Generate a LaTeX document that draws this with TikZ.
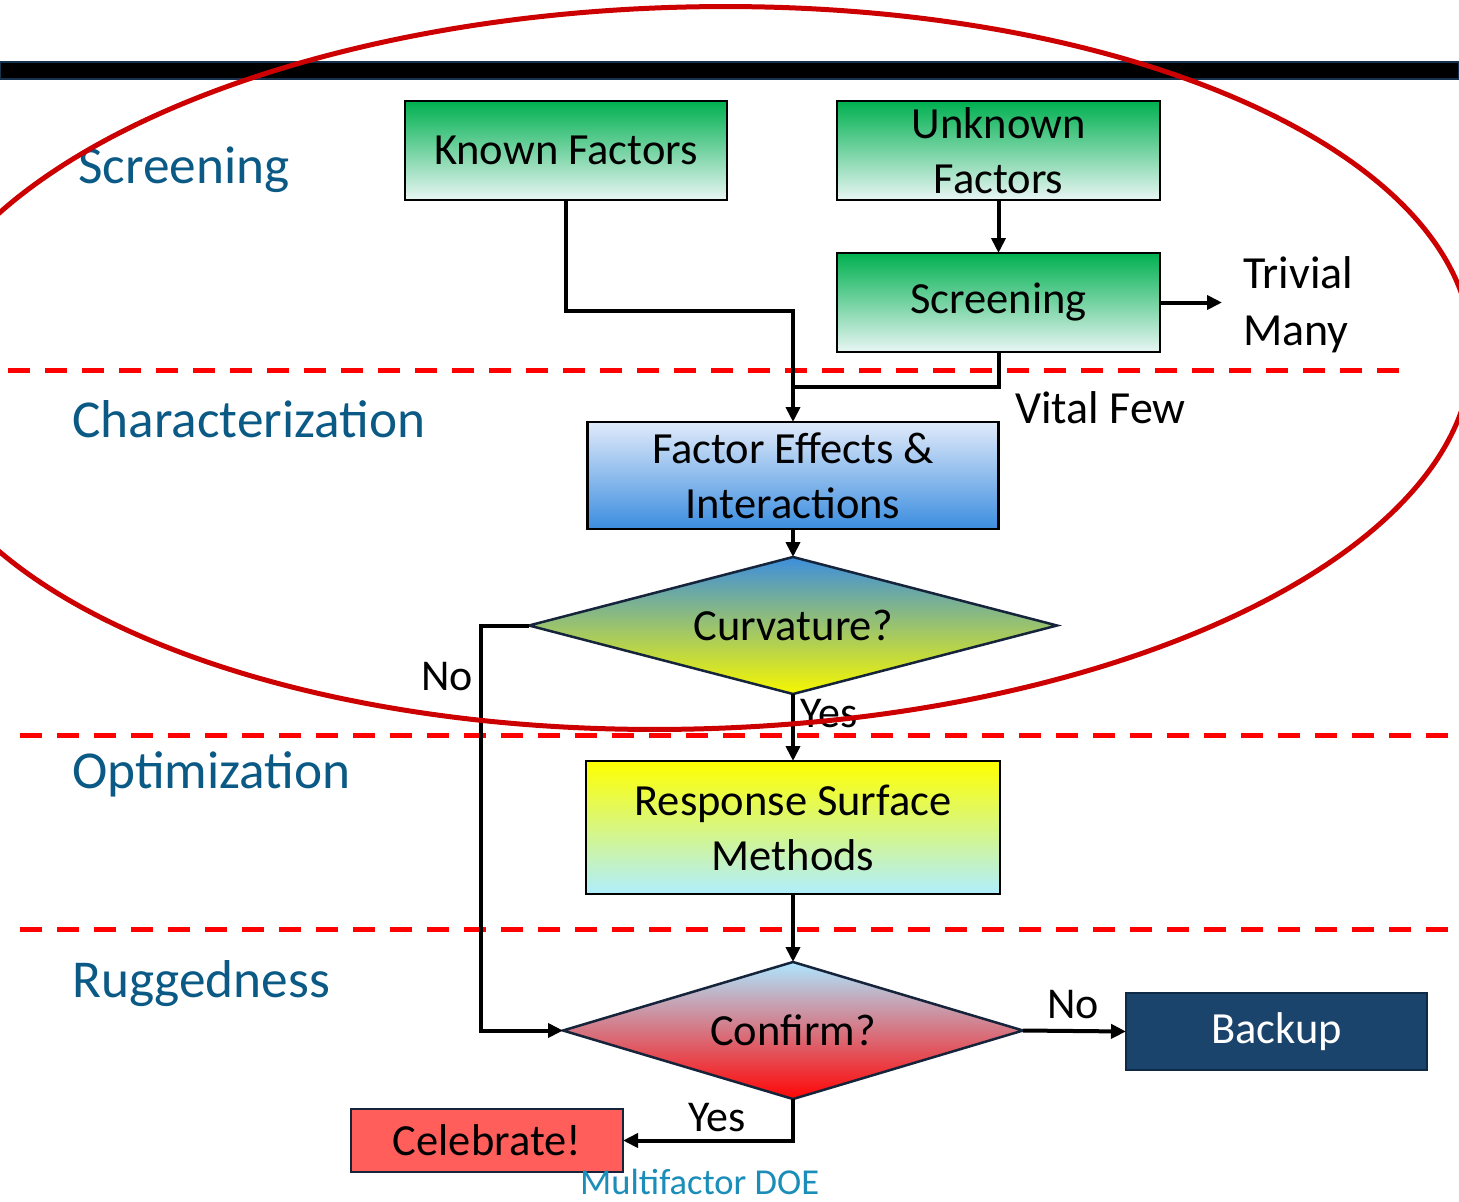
\documentclass[tikz,border=0pt]{standalone}
\usepackage{fontspec}
\setmainfont{Carlito}
\usetikzlibrary{shapes.geometric,arrows.meta}
\definecolor{lbl}{HTML}{0B5A86}
\definecolor{doe}{HTML}{1A8DB8}
\definecolor{grnT}{HTML}{00B050}
\definecolor{grnB}{HTML}{E9F6F4}
\definecolor{facT}{HTML}{E0EAFA}
\definecolor{facB}{HTML}{3B8DDF}
\definecolor{curT}{HTML}{3C8EDD}
\definecolor{curM}{HTML}{98C07E}
\definecolor{curB}{HTML}{F7F700}
\definecolor{resT}{HTML}{FFFF00}
\definecolor{resB}{HTML}{B0EEFF}
\definecolor{conT}{HTML}{ADE6FF}
\definecolor{conM}{HTML}{D58E99}
\definecolor{conB}{HTML}{FF0505}
\definecolor{bkup}{HTML}{1A446B}
\definecolor{bkupE}{HTML}{0E2A47}
\definecolor{celeb}{HTML}{FF5E5B}
\definecolor{dmdE}{HTML}{15243A}
\definecolor{barE}{HTML}{17324F}
\definecolor{ell}{HTML}{CC0000}
\definecolor{dsh}{HTML}{FF0000}
\begin{document}
\begin{tikzpicture}[x=1pt,y=-1pt,
  boxtxt/.style={font=\fontsize{44.5}{55}\selectfont},
  fbox/.style={boxtxt, rectangle, draw=black, line width=2.5pt, inner sep=0pt, outer sep=0pt, align=center},
  greenbox/.style={fbox, top color=grnT, bottom color=grnB},
  dmd/.style={boxtxt, diamond, draw=dmdE, line width=2.5pt, inner sep=0pt, outer sep=0pt},
  conn/.style={line width=4pt, black, line join=miter, -{Triangle[length=15pt,width=14pt]}},
  plain/.style={line width=4pt, black, line join=miter},
  phase/.style={font=\fontsize{53.3}{60}\selectfont, text=lbl, anchor=base west, inner sep=0pt},
  side/.style={font=\fontsize{46}{55}\selectfont, anchor=base west, inner sep=0pt},
  yn/.style={font=\fontsize{44}{52}\selectfont, anchor=base west, inner sep=0pt},
  sep/.style={dsh, line width=5pt, dash pattern=on 22pt off 15pt}
]
\useasboundingbox (0,0) rectangle (1459,1202);
\clip (0,0) rectangle (1459,1202);
\fill[white] (0,0) rectangle (1459,1202);

% top bar
\filldraw[fill=black, draw=barE, line width=1.5pt] (0,62) rectangle (1459,79);

% phase separators
\draw[sep] (8,370) -- (1412,370);
\draw[sep] (20,735) -- (1459,735);
\draw[sep] (20,929) -- (1459,929);

% phase labels
\node[phase] (lscr) at (78,183) {Screening};
\node[phase] (lchar) at (72,437) {Characterization};
\node[phase] (lopt) at (72,788) {Optimization};
\node[phase] (lrug) at (72,997) {Ruggedness};

% boxes
\node[greenbox, minimum width=322pt, minimum height=99pt] (known) at (566,150.5) {Known Factors};
\node[greenbox, minimum width=323pt, minimum height=99pt] (unk) at (998.5,150.5) {Unknown\\Factors};
\node[greenbox, minimum width=323pt, minimum height=99pt] (scr) at (998.5,302.5) {Screening};
\node[fbox, top color=facT, bottom color=facB, minimum width=411pt, minimum height=107pt] (fact) at (793,475.5) {Factor Effects \&\\Interactions};
\node[dmd, aspect=3.854, top color=curT, middle color=curM, bottom color=curB, minimum width=528pt, minimum height=137pt] (curv) at (793,625.5) {Curvature?};
\node[fbox, top color=resT, bottom color=resB, minimum width=414pt, minimum height=133pt] (resp) at (793,827.5) {Response Surface\\Methods};
\node[dmd, aspect=3.358, top color=conT, middle color=conM, bottom color=conB, minimum width=460pt, minimum height=137pt] (conf) at (793,1030.5) {Confirm?};
\node[fbox, fill=bkup, draw=bkupE, text=white, minimum width=301pt, minimum height=77pt] (back) at (1276.5,1031.5) {Backup};
\node[fbox, fill=celeb, draw=dmdE, minimum width=272pt, minimum height=63pt] (cel) at (487,1140.5) {Celebrate!};

% side texts
\node[side] (triv1) at (1243,288) {Trivial};
\node[side] (triv2) at (1243,345) {Many};
\node[side] (vital) at (1015,423) {Vital Few};
\node[yn] (no1) at (421,690) {No};
\node[yn] (yes1) at (800,727) {Yes};
\node[yn] (no2) at (1047,1018) {No};
\node[yn] (yes2) at (688,1131) {Yes};
\node[font=\fontsize{36.5}{44}\selectfont, text=doe, anchor=base west, inner sep=0pt] (mdoe) at (580,1194) {Multifactor DOE};

% connectors
\coordinate (trivend) at (1222,302.5);
\draw[conn] (known.south) |- (793,311) -- (fact.north);
\draw[plain] (scr.south) |- (793,387);
\draw[conn] (unk.south) -- (scr.north);
\draw[conn] (scr.east) -- (trivend);
\draw[conn] (fact.south) -- (curv.north);
\draw[conn] (curv.south) -- (resp.north);
\draw[conn] (curv.west) -- ++(-48,0) |- (conf.west);
\draw[conn] (resp.south) -- (conf.north);
\draw[conn] (conf.east) -- (back.west);
\draw[conn] (conf.south) |- (cel.east);

% ellipse
\draw[ell, line width=5pt, rotate around={1.5:(690,368)}] (690,368) ellipse [x radius=782, y radius=361];
\end{tikzpicture}
\end{document}
